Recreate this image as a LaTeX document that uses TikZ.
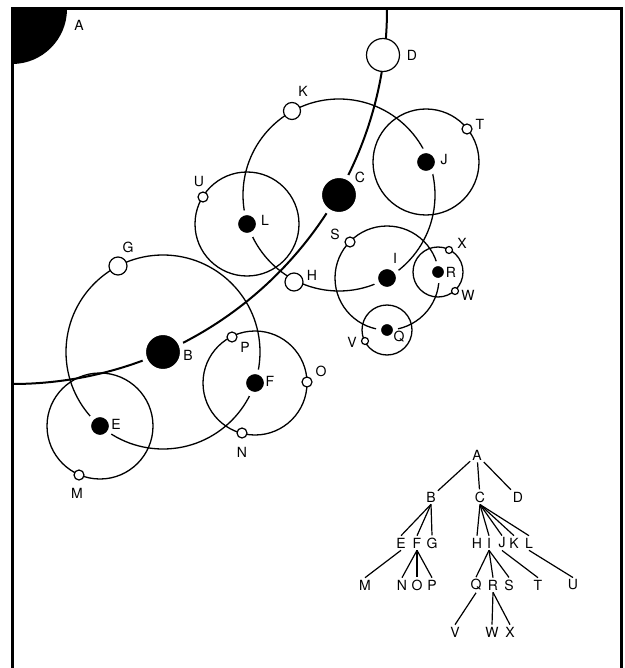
\documentclass[tikz,border=0pt]{standalone}
\usepackage{fontspec}
\setmainfont{TeX Gyre Heros}
\usetikzlibrary{backgrounds}

\tikzset{
    body/.style={circle, fill=black, draw=white, line width=5pt, inner sep=0pt, minimum size=#1},
    moon/.style={circle, fill=white, draw=black, line width=1.2pt, inner sep=0pt, minimum size=#1},
    orbit/.style={line width=1.3pt},
    edge/.style={line width=1.2pt}
}

\begin{document}
\begin{tikzpicture}[x=1pt, y=-1pt, font=\fontsize{14}{16}\selectfont, inner sep=2pt]
    \useasboundingbox (0,0) rectangle (624,668);

    % Frame and sun
    \coordinate (A) at (12,9);
    \draw[line width=3pt] (12,668) -- (A) -- (621,9) -- (621,668);
    \fill (A) -- ++(55,0) arc[start angle=0, end angle=90, radius=55] -- cycle;

    % Planets
    \node[body=39pt] (B) at (163,352) {};
    \node[body=39pt] (C) at (339,195) {};
    \node[moon=33pt] (D) at (383,55) {};

    % Moons
    \node[body=23pt] (E) at (100,426) {};
    \node[body=23pt] (F) at (255,383) {};
    \node[moon=18pt] (G) at (118,266) {};
    \node[moon=18pt] (H) at (294,282) {};
    \node[body=23pt] (I) at (387,278) {};
    \node[body=23pt] (J) at (426,162) {};
    \node[moon=17pt] (K) at (292,111) {};
    \node[body=23pt] (L) at (247,224) {};

    % Small moons
    \node[moon=10pt] (M) at (79,475) {};
    \node[moon=10pt] (N) at (242,433) {};
    \node[moon=10pt] (O) at (307,382) {};
    \node[moon=10pt] (P) at (232,337) {};
    \node[body=17pt] (Q) at (387,330) {};
    \node[body=17pt] (R) at (438,272) {};
    \node[moon=10pt] (S) at (350,242) {};
    \node[moon=10pt] (T) at (467,129) {};
    \node[moon=10pt] (U) at (203,197) {};
    \node[moon=7pt] (V) at (365,341) {};
    \node[moon=7pt] (W) at (455,291) {};
    \node[moon=7pt] (X) at (449,250) {};

    % Labels
    \foreach \n/\x/\y in {A/79/25, B/188/355, C/360/177, D/412/55, E/116/424, F/270/381,
        G/128/247, H/312/275, I/395/258, J/444/160, K/303/91, L/265/220, M/77/493,
        N/242/452, O/321/371, P/245/347, Q/399/337, R/451/272, S/335/234, T/480/124,
        U/199/182, V/352/342, W/468/295, X/462/243} {
        \node (l\n) at (\x,\y) {\n};
    }

    % Orbits
    \begin{scope}[on background layer]
        \draw[line width=2pt] (A) ++(375,0) arc[start angle=0, end angle=90, radius=375];
        \draw[orbit] (B) circle[radius=97];
        \draw[orbit] (C) circle[radius=96];
        \foreach \p in {E, J} {
            \draw[orbit] (\p) circle[radius=53];
        }
        \foreach \p in {F, I, L} {
            \draw[orbit] (\p) circle[radius=52];
        }
        \foreach \p in {Q, R} {
            \draw[orbit] (\p) circle[radius=25];
        }
    \end{scope}

    % Tree
    \foreach \n/\x/\y in {A/477/455, B/431/497, C/480/497, D/518/497,
        E/401/543, F/417/543, G/432/543, H/477/543, I/489/543, J/502/543, K/514/543, L/529/543,
        M/365/585, N/402/585, O/417/585, P/432/585, Q/476/585, R/493/585, S/509/585, T/538/585, U/573/585,
        V/455/632, W/492/632, X/510/632} {
        \node (t\n) at (\x,\y) {\n};
    }
    \foreach \c in {B, C, D} {
        \draw[edge] (tA) -- (t\c);
    }
    \foreach \p/\c in {B/E, B/F, B/G, C/H, C/I, C/J, C/K, C/L, E/M, F/N, F/O, F/P,
        I/Q, I/R, I/S, J/T, L/U, Q/V, R/W, R/X} {
        \draw[edge] (t\p.south) -- (t\c.north);
    }
\end{tikzpicture}
\end{document}
